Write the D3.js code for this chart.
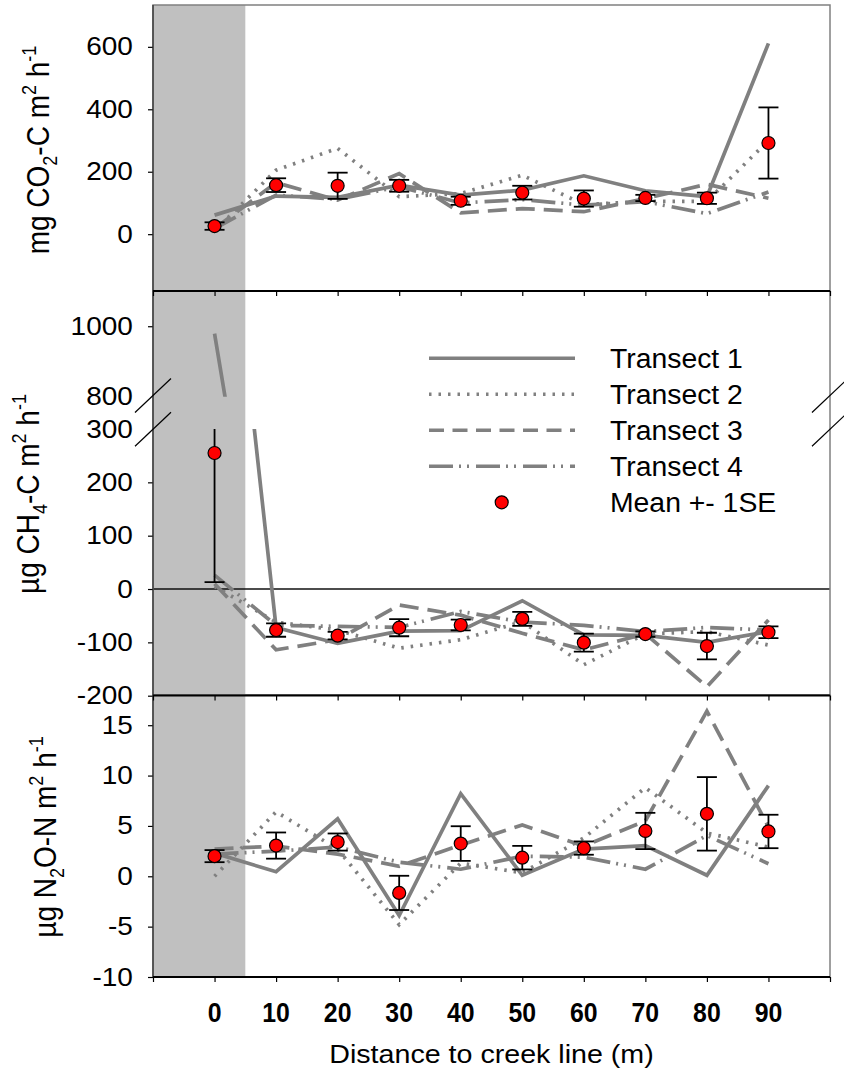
<!DOCTYPE html>
<html>
<head>
<meta charset="utf-8">
<script src="https://cdn.jsdelivr.net/npm/d3@7"></script>
<style>
  body { margin: 0; background: #fff; }
  svg text { font-family: "Liberation Sans", Arial, sans-serif; fill: #000; }
</style>
</head>
<body>
<svg id="chart" width="844" height="1083"></svg>
<script>
// distances along the transect (m)
const distances = [0, 10, 20, 30, 40, 50, 60, 70, 80, 90];

// CO2 flux, mg CO2-C m-2 h-1
const co2Transect1 = [61, 122, 118, 157, 125, 141, 187, 139, 120, 611];
const co2Transect2 = [10, 205, 275, 120, 130, 189, 95, 105, 105, 300];
const co2Transect3 = [18, 165, 109, 194, 68, 82, 72, 114, 160, 115];
const co2Transect4 = [18, 125, 112, 152, 100, 111, 93, 104, 66, 135];
const co2Mean = [26, 157, 155, 155, 107, 133, 114, 116, 115, 292];
const co2SE = [12, 22, 42, 19, 13, 22, 26, 10, 18, 114];

// CH4 flux, ug CH4-C m-2 h-1
const ch4Transect1 = [979, -72, -102, -79, -78, -22, -86, -87, -100, -80];
const ch4Transect2 = [5, -62, -77, -111, -95, -61, -142, -84, -80, -105];
const ch4Transect3 = [10, -114, -95, -30, -49, -83, -114, -84, -183, -58];
const ch4Transect4 = [26, -68, -70, -72, -42, -62, -68, -80, -72, -77];
const ch4Mean = [255, -77, -87.5, -72.5, -67.5, -56, -100.5, -84.5, -107, -81];
const ch4SE = [242, 12.5, 7, 16, 10, 13, 17, 5, 25, 11];

// N2O flux, ug N2O-N m-2 h-1
const n2oTransect1 = [2.3, 0.45, 5.7, -3.9, 8.2, 0.1, 2.7, 3.05, 0.1, 9.0];
const n2oTransect2 = [0.0, 6.4, 2.7, -4.8, 1.3, 0.35, 3.8, 8.8, 4.3, 2.9];
const n2oTransect3 = [2.7, 3.0, 2.2, 1.0, 3.1, 5.1, 3.0, 5.5, 16.4, 4.9];
const n2oTransect4 = [2.2, 2.5, 2.9, 1.4, 0.7, 2.0, 1.9, 0.7, 4.05, 1.25];
const n2oMean = [2.0, 3.05, 3.4, -1.65, 3.25, 1.85, 2.8, 4.5, 6.2, 4.45];
const n2oSE = [0.6, 1.3, 0.85, 1.7, 1.72, 1.17, 0.66, 1.8, 3.65, 1.66];

// ticks and labels
const xTicks = [-10, 0, 10, 20, 30, 40, 50, 60, 70, 80, 90, 100];
const xLabels = [0, 10, 20, 30, 40, 50, 60, 70, 80, 90];
const co2Ticks = [0, 200, 400, 600];
const ch4UpperTicks = [800, 1000];
const ch4LowerTicks = [-200, -100, 0, 100, 200, 300];
const n2oTicks = [-10, -5, 0, 5, 10, 15];
const legendLabels = ["Transect 1", "Transect 2", "Transect 3", "Transect 4", "Mean +- 1SE"];
const xTitle = "Distance to creek line (m)";

const FONT = '"Liberation Sans", Arial, sans-serif';
const GREY = "#808080";
const dashes = [null, "2.5,7", "19,9", "24,6,2,6,2,7"];
const legendDashes = [null, "2.5,7", "15,8.5", "24,6,2,6,2,7"];

const svg = d3.select("#chart");
const left = 153, right = 830;
const x = d3.scaleLinear().domain([-10, 100]).range([left, right]);

const yCo2 = d3.scaleLinear().domain([-182, 734]).range([291, 5]);
const yCh4Up = d3.scaleLinear().domain([800, 1100]).range([396.7, 291]);
const yCh4Low = d3.scaleLinear().domain([-200, 300]).range([695.7, 429]);
const yN2o = d3.scaleLinear().domain([-10, 18]).range([977, 695]);

// shaded band near the creek
svg.append("rect")
  .attr("x", x(-10)).attr("y", 5)
  .attr("width", x(5) - x(-10)).attr("height", 972)
  .attr("fill", "#c0c0c0");

// zero line of CH4 panel
svg.append("line")
  .attr("x1", left).attr("x2", right)
  .attr("y1", yCh4Low(0)).attr("y2", yCh4Low(0))
  .attr("stroke", "#111").attr("stroke-width", 1.3);

let clipCount = 0;
function drawPart(y, y0, y1, transects, mean, se, withMeans) {
  const id = "clip" + (clipCount++);
  svg.append("clipPath").attr("id", id)
    .append("rect").attr("x", left).attr("y", y0)
    .attr("width", right - left).attr("height", y1 - y0);
  const g = svg.append("g").attr("clip-path", `url(#${id})`);
  const line = d3.line().x(d => x(d[0])).y(d => y(d[1]));

  transects.forEach((vals, k) => {
    g.append("path")
      .datum(distances.map((d, i) => [d, vals[i]]))
      .attr("d", line)
      .attr("fill", "none")
      .attr("stroke", GREY)
      .attr("stroke-width", 3.7)
      .attr("stroke-dasharray", dashes[k]);
  });

  if (!withMeans) return;
  const bars = g.selectAll(".bar").data(distances).enter().append("g");
  bars.append("line")
    .attr("x1", d => x(d)).attr("x2", d => x(d))
    .attr("y1", (d, i) => y(mean[i] - se[i])).attr("y2", (d, i) => y(mean[i] + se[i]))
    .attr("stroke", "#000").attr("stroke-width", 1.8);
  [-1, 1].forEach(s => {
    bars.append("line")
      .attr("x1", d => x(d) - 10).attr("x2", d => x(d) + 10)
      .attr("y1", (d, i) => y(mean[i] + s * se[i])).attr("y2", (d, i) => y(mean[i] + s * se[i]))
      .attr("stroke", "#000").attr("stroke-width", 1.8);
  });
  g.selectAll(".dot").data(distances).enter().append("circle")
    .attr("cx", d => x(d)).attr("cy", (d, i) => y(mean[i]))
    .attr("r", 6.5)
    .attr("fill", "#ff0000").attr("stroke", "#000").attr("stroke-width", 1.2);
}

drawPart(yCo2, 5, 291, [co2Transect1, co2Transect2, co2Transect3, co2Transect4], co2Mean, co2SE, true);
drawPart(yCh4Up, 291, 396.7, [ch4Transect1, ch4Transect2, ch4Transect3, ch4Transect4], ch4Mean, ch4SE, false);
drawPart(yCh4Low, 429, 695.7, [ch4Transect1, ch4Transect2, ch4Transect3, ch4Transect4], ch4Mean, ch4SE, true);
drawPart(yN2o, 695, 977, [n2oTransect1, n2oTransect2, n2oTransect3, n2oTransect4], n2oMean, n2oSE, true);

// frames
[[5, 291], [291, 695], [695, 977]].forEach(([t, b]) => {
  svg.append("rect").attr("x", left).attr("y", t)
    .attr("width", right - left).attr("height", b - t)
    .attr("fill", "none").attr("stroke", GREY).attr("stroke-width", 1.5);
});

// y axes
function leftAxis(y, values, noTick) {
  const g = svg.append("g").attr("transform", `translate(${left},0)`)
    .call(d3.axisLeft(y).tickValues(values).tickSize(5).tickSizeOuter(0)
      .tickPadding(13).tickFormat(d => String(d)));
  g.select(".domain").remove();
  g.selectAll(".tick line").attr("stroke", "#000").attr("stroke-width", 1.2);
  g.selectAll(".tick").filter(d => noTick.includes(d)).select("line").remove();
  g.selectAll(".tick text")
    .attr("font-size", 25).attr("font-family", FONT)
    .attr("transform", "scale(1.12,1)");
}
leftAxis(yCo2, co2Ticks, []);
leftAxis(yCh4Up, ch4UpperTicks, [800]);
leftAxis(yCh4Low, ch4LowerTicks, [300]);
leftAxis(yN2o, n2oTicks, []);

svg.append("line").attr("x1", left).attr("x2", left).attr("y1", 5).attr("y2", 977)
  .attr("stroke", "#333").attr("stroke-width", 1.3);

// x axes under each panel
[291, 695.5, 977].forEach(b => {
  const g = svg.append("g").attr("transform", `translate(0,${b})`)
    .call(d3.axisBottom(x).tickValues(xTicks).tickSize(5).tickSizeOuter(0).tickFormat(""));
  g.select(".domain").remove();
  g.selectAll(".tick line").attr("stroke", "#000").attr("stroke-width", 1.2);
  svg.append("line").attr("x1", left).attr("x2", right).attr("y1", b).attr("y2", b)
    .attr("stroke", "#000").attr("stroke-width", 1.8);
});

// axis break marks
[left, right].forEach(cx => {
  [395.5, 429.2].forEach(cy => {
    svg.append("line")
      .attr("x1", cx - 18).attr("y1", cy + 17)
      .attr("x2", cx + 18).attr("y2", cy - 17)
      .attr("stroke", "#000").attr("stroke-width", 1.2);
  });
});

// x tick labels
svg.selectAll(".xlab").data(xLabels).enter().append("text")
  .attr("transform", d => `translate(${x(d)},1022) scale(0.92,1)`)
  .attr("text-anchor", "middle")
  .attr("font-size", 27).attr("font-weight", "bold")
  .text(d => d);

svg.append("text")
  .attr("transform", `translate(${(left + right) / 2},1063) scale(1.08,1)`)
  .attr("text-anchor", "middle")
  .attr("font-size", 26.5)
  .text(xTitle);

// y titles with sub/superscripts
function yTitle(cx, cy, parts) {
  const t = svg.append("text")
    .attr("transform", `translate(${cx},${cy}) scale(1.15,1) rotate(-90)`)
    .attr("text-anchor", "middle")
    .attr("font-size", 28);
  let shift = 0;
  parts.forEach(([s, kind]) => {
    const target = kind === "sub" ? 7 : kind === "sup" ? -11 : 0;
    t.append("tspan")
      .attr("dy", target - shift)
      .attr("font-size", kind === "n" ? 28 : 18)
      .text(s);
    shift = target;
  });
}
yTitle(49, 150, [["mg CO", "n"], ["2", "sub"], ["-C m", "n"], ["2", "sup"], ["\u00a0h", "n"], ["-1", "sup"]]);
yTitle(39, 494, [["\u00b5g CH", "n"], ["4", "sub"], ["-C m", "n"], ["2", "sup"], ["\u00a0h", "n"], ["-1", "sup"]]);
yTitle(56, 837, [["\u00b5g N", "n"], ["2", "sub"], ["O-N m", "n"], ["2", "sup"], ["\u00a0h", "n"], ["-1", "sup"]]);

// legend
const legend = svg.append("g");
legendLabels.forEach((label, i) => {
  const ly = 358.3 + i * 36;
  if (i < 4) {
    legend.append("line")
      .attr("x1", 429).attr("x2", 575).attr("y1", ly).attr("y2", ly)
      .attr("stroke", GREY).attr("stroke-width", 3.5)
      .attr("stroke-dasharray", legendDashes[i]);
  } else {
    legend.append("circle")
      .attr("cx", 501.7).attr("cy", ly).attr("r", 6.5)
      .attr("fill", "#ff0000").attr("stroke", "#000").attr("stroke-width", 1.2);
  }
  legend.append("text")
    .attr("transform", `translate(610,${ly + 9.5}) scale(1.05,1)`)
    .attr("font-size", 27)
    .text(label);
});
</script>
</body>
</html>
